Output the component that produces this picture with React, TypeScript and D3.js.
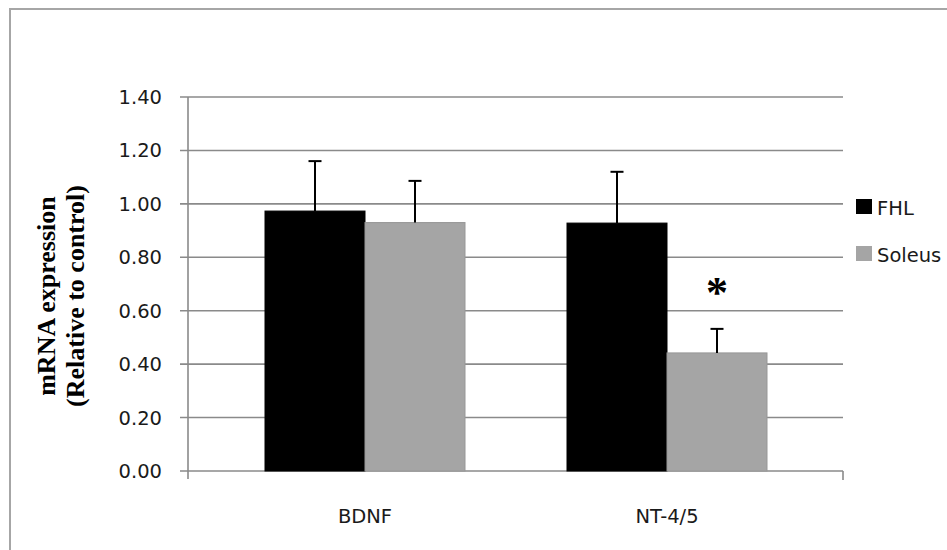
import React from "react";
import * as d3 from "d3";

const categories = ["BDNF", "NT-4/5"];
const seriesNames = ["FHL", "Soleus"];
const fhlValues = [0.973, 0.928];
const fhlErrors = [0.187, 0.192];
const soleusValues = [0.93, 0.442];
const soleusErrors = [0.156, 0.09];
const yTicks = [0, 0.2, 0.4, 0.6, 0.8, 1.0, 1.2, 1.4];
const significance = ["", "*"];

const colors: Record<string, string> = { FHL: "#000000", Soleus: "#a5a5a5" };

export default function App() {
  const W = 947, H = 550;
  const axisLeft = 188, axisRight = 843;
  const y = d3.scaleLinear().domain([0, 1.4]).range([471, 97]);
  const x0 = d3.scaleBand<string>().domain(categories).range([214, 818]).padding(0);
  const groupW = 200;
  const x1 = d3.scaleBand<string>().domain(seriesNames).range([0, groupW]).padding(0);

  const data = categories.map((c, i) => ({
    cat: c,
    sig: significance[i],
    bars: [
      { s: "FHL", v: fhlValues[i], e: fhlErrors[i] },
      { s: "Soleus", v: soleusValues[i], e: soleusErrors[i] },
    ],
  }));

  const gridColor = "#8a8a8a";
  const tickFont = "'DejaVu Sans', sans-serif";

  return (
    <svg width={W} height={H} style={{ position: "absolute", left: 0, top: 0, background: "#fff" }}>
      <rect x={0} y={0} width={W} height={H} fill="#fff" />
      <rect x={10} y={9} width={1000} height={700} fill="none" stroke="#a6a6a6" strokeWidth={2} />
      {yTicks.map((t) => (
        <g key={t}>
          <line x1={180} x2={axisRight} y1={y(t)} y2={y(t)} stroke={gridColor} strokeWidth={1.6} />
          <text x={162} y={y(t)} dy="0.36em" textAnchor="end" fontFamily={tickFont} fontSize={19.5} fill="#1a1a1a">
            {d3.format(".2f")(t)}
          </text>
        </g>
      ))}
      <line x1={axisLeft} x2={axisLeft} y1={y(1.4)} y2={479} stroke={gridColor} strokeWidth={1.6} />
      <line x1={axisRight} x2={axisRight} y1={y(0)} y2={480} stroke={gridColor} strokeWidth={1.6} />
      {data.map((d) => {
        const gx = (x0(d.cat) as number) + (x0.bandwidth() - groupW) / 2;
        return (
          <g key={d.cat} transform={`translate(${gx},0)`}>
            {d.bars.map((b) => {
              const bx = x1(b.s) as number;
              const bw = x1.bandwidth();
              const cx = bx + bw / 2;
              return (
                <g key={b.s}>
                  <rect x={bx} y={y(b.v)} width={bw} height={y(0) - y(b.v)} fill={colors[b.s]}
                    stroke={b.s === "Soleus" ? "#979797" : "#000"} strokeWidth={1} />
                  <line x1={cx} x2={cx} y1={y(b.v)} y2={y(b.v + b.e)} stroke="#000" strokeWidth={2} />
                  <line x1={cx - 6.5} x2={cx + 6.5} y1={y(b.v + b.e)} y2={y(b.v + b.e)} stroke="#000" strokeWidth={2} />
                  {b.s === "Soleus" && d.sig ? (
                    <text x={cx} y={y(b.v + b.e) - 49} textAnchor="middle" fontFamily="'Liberation Serif', serif"
                      fontWeight="bold" fontSize={44} fill="#000" dy="0.62em">
                      {d.sig}
                    </text>
                  ) : null}
                </g>
              );
            })}
            <text x={groupW / 2} y={523} textAnchor="middle" fontFamily={tickFont} fontSize={19.5} fill="#1a1a1a">
              {d.cat}
            </text>
          </g>
        );
      })}
      <g transform={`translate(0,296) rotate(-90)`} fontFamily="'Liberation Serif', serif" fontWeight="bold" fontSize={26} fill="#000">
        <text x={0} y={55} textAnchor="middle">mRNA expression</text>
        <text x={0} y={84} textAnchor="middle">(Relative to control)</text>
      </g>
      {seriesNames.map((s, i) => (
        <g key={s} transform={`translate(856,${199 + i * 47})`}>
          <rect x={0} y={0} width={16} height={15} fill={colors[s]} />
          <text x={21} y={15.5} fontFamily={tickFont} fontSize={19.5} fill="#1a1a1a">{s}</text>
        </g>
      ))}
    </svg>
  );
}
